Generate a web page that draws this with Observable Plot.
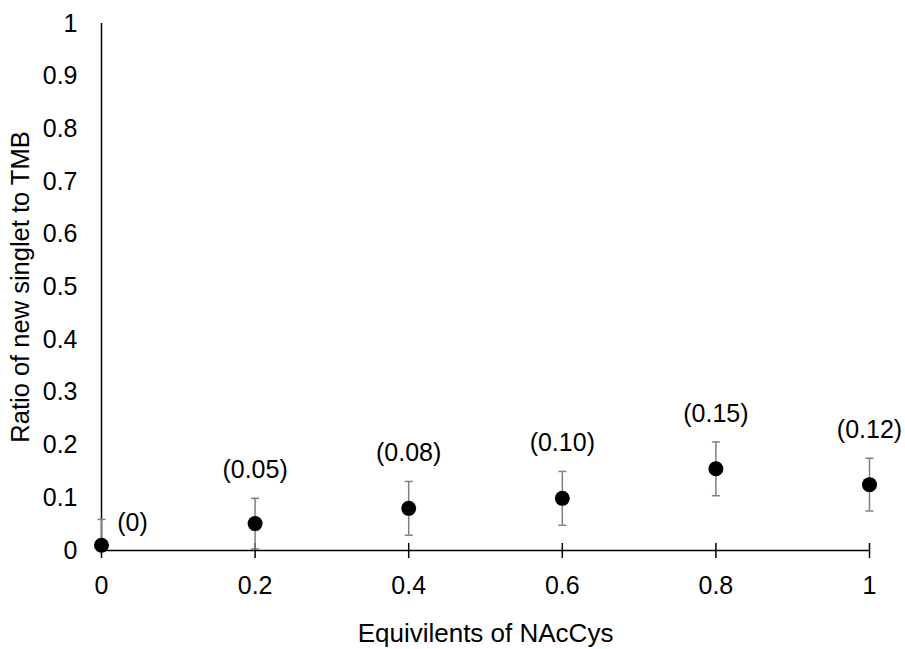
<!DOCTYPE html>
<html>
<head>
<meta charset="utf-8">
<script src="https://cdn.jsdelivr.net/npm/d3@7"></script>
<script src="https://cdn.jsdelivr.net/npm/@observablehq/plot@0.6"></script>
<style>
  html, body { margin: 0; padding: 0; background: #fff; }
</style>
</head>
<body>
<div id="chart"></div>
<script>
const equivalents = [0, 0.2, 0.4, 0.6, 0.8, 1];
const ratios = [0.01, 0.051, 0.080, 0.099, 0.155, 0.125];
const errors = [0.049, 0.048, 0.051, 0.051, 0.051, 0.050];
const pointLabels = ["(0)", "(0.05)", "(0.08)", "(0.10)", "(0.15)", "(0.12)"];
const xTicks = [0, 0.2, 0.4, 0.6, 0.8, 1];
const yTicks = [0, 0.1, 0.2, 0.3, 0.4, 0.5, 0.6, 0.7, 0.8, 0.9, 1];

const data = equivalents.map((x, i) => ({
  x, y: ratios[i], lo: Math.max(0, ratios[i] - errors[i]), hi: ratios[i] + errors[i], label: pointLabels[i], i
}));

const capSymbol = {
  draw(context, size) {
    const w = 4;
    context.moveTo(-w, 0);
    context.lineTo(w, 0);
  }
};

const font = "'Liberation Sans', Arial, Helvetica, sans-serif";

const chart = Plot.plot({
  width: 905,
  height: 649,
  marginLeft: 101,
  marginRight: 36,
  marginTop: 23,
  marginBottom: 99,
  style: { fontFamily: font, fontSize: "25px", color: "#000", background: "#fff", overflow: "visible" },
  x: { domain: [0, 1], axis: null },
  y: { domain: [0, 1], axis: null },
  marks: [
    Plot.text(yTicks, { y: d => d, text: d => String(d), frameAnchor: "left", dx: -24, textAnchor: "end", fontSize: 25, fill: "#000" }),
    Plot.text(xTicks, { x: d => d, text: d => String(d), frameAnchor: "bottom", dy: 35, lineAnchor: "middle", fontSize: 25, fill: "#000" }),
    Plot.text(["Ratio of new singlet to TMB"], { frameAnchor: "left", dx: -81, rotate: -90, text: d => d, fontSize: 25.5, fill: "#000", textAnchor: "middle" }),
    Plot.text(["Equivilents of NAcCys"], { frameAnchor: "bottom", dy: 83, lineAnchor: "middle", text: d => d, fontSize: 26, fill: "#000" }),
    Plot.ruleX([0], { stroke: "#000", strokeWidth: 1.5 }),
    Plot.ruleY([0], { stroke: "#000", strokeWidth: 1.5 }),
    Plot.ruleX(xTicks, { x: d => d, y1: 0, y2: 0, insetTop: -7, insetBottom: -8, stroke: "#000", strokeWidth: 1.5 }),
    Plot.ruleX(data, { x: "x", y1: "lo", y2: "hi", stroke: "#808080", strokeWidth: 1.5 }),
    Plot.dot(data, { x: "x", y: "hi", symbol: capSymbol, stroke: "#808080", strokeWidth: 1.5, r: 4 }),
    Plot.dot(data.filter(d => d.x > 0), { x: "x", y: "lo", symbol: capSymbol, stroke: "#808080", strokeWidth: 1.5, r: 4 }),
    Plot.dot(data, { x: "x", y: "y", r: 7.5, fill: "#000", stroke: "none" }),
    Plot.text(data.filter(d => d.i > 0), { x: "x", y: "hi", text: "label", dy: -28, fontSize: 25, fill: "#000" }),
    Plot.text(data.filter(d => d.i === 0), { x: "x", y: "y", text: "label", dx: 31, dy: -22, fontSize: 25, fill: "#000" })
  ]
});
document.getElementById("chart").appendChild(chart);
</script>
</body>
</html>
